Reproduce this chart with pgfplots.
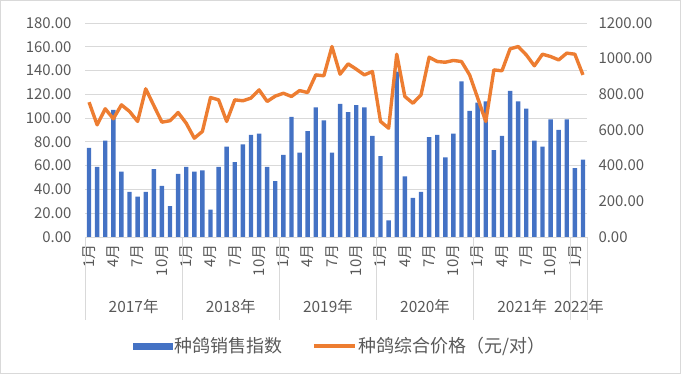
\documentclass[border=0pt]{standalone}
\usepackage{fontspec}
\setmainfont{Noto Sans CJK SC}
\usepackage{pgfplots}
\pgfplotsset{compat=1.18}
\definecolor{barblue}{HTML}{4472C4}
\definecolor{lineorange}{HTML}{ED7D31}
\definecolor{txtgray}{HTML}{595959}
\definecolor{gridgray}{HTML}{D9D9D9}

\pgfplotstableread{
m v
1 75
2 59
3 81
4 107
5 55
6 38
7 34
8 38
9 57
10 43
11 26
12 53
13 59
14 55
15 56
16 23
17 59
18 76
19 63
20 78
21 86
22 87
23 59
24 47
25 69
26 101
27 71
28 89
29 109
30 98
31 71
32 112
33 105
34 111
35 109
36 85
37 68
38 14
39 139
40 51
41 33
42 38
43 84
44 86
45 67
46 87
47 131
48 106
49 113
50 114
51 73
52 85
53 123
54 114
55 108
56 81
57 76
58 99
59 90
60 99
61 58
62 65
}\bars

\pgfplotstableread{
m p
1 756
2 629
3 719
4 663
5 741
6 704
7 648
8 831
9 737
10 644
11 652
12 698
13 638
14 554
15 592
16 782
17 769
18 648
19 769
20 764
21 779
22 825
23 760
24 790
25 806
26 788
27 821
28 810
29 909
30 904
31 1068
32 913
33 971
34 941
35 909
36 928
37 648
38 610
39 1025
40 788
41 750
42 797
43 1008
44 984
45 980
46 990
47 984
48 909
49 779
50 648
51 937
52 932
53 1055
54 1068
55 1021
56 960
57 1025
58 1012
59 993
60 1031
61 1025
62 909
}\price

\begin{document}
\begin{tikzpicture}
\path[use as bounding box] (0bp,0bp) rectangle (681bp,374bp);
\draw[gridgray, line width=1.2bp] (0.6bp,0.6bp) rectangle (680.4bp,373.4bp);
\begin{axis}[
  at={(85bp,137bp)}, anchor=south west,
  width=502bp, height=214bp, scale only axis,
  xmin=0.5, xmax=62.5, ymin=0, ymax=180,
  axis x line*=bottom, axis y line*=left,
  x axis line style={gridgray, line width=0.8bp},
  y axis line style={draw=none},
  ytick={0,20,...,180},
  ymajorgrids, grid style={gridgray, line width=0.8bp},
  ytick style={draw=none},
  /pgf/number format/fixed, /pgf/number format/fixed zerofill,
  /pgf/number format/precision=2, /pgf/number format/assume math mode=true,
  yticklabel style={font=\fontsize{15}{15}\selectfont, text=txtgray, xshift=-10bp},
  xtick={1,4,7,10,13,16,19,22,25,28,31,34,37,40,43,46,49,52,55,58,61},
  xticklabels={1月,4月,7月,10月,1月,4月,7月,10月,1月,4月,7月,10月,1月,4月,7月,10月,1月,4月,7月,10月,1月},
  xticklabel style={rotate=90, anchor=east, font=\fontsize{15}{15}\selectfont, text=txtgray},
  xtick style={draw=none},
  xticklabel shift=4bp,
  clip=false,
]
\addplot[ybar, bar width=4.4bp, fill=barblue, draw=none] table[x=m, y=v] {\bars};
\foreach \s in {0.5,12.5,24.5,36.5,48.5,60.5,62.5}{
  \edef\tmp{\noexpand\draw[gridgray, line width=0.8bp] (axis cs:\s,0) -- ++(0bp,-83bp);}
  \tmp
}
\foreach \c/\t in {6.5/2017年, 18.5/2018年, 30.5/2019年, 42.5/2020年, 54.5/2021年, 61.5/2022年}{
  \edef\tmp{\noexpand\node[font=\noexpand\fontsize{15.5}{15.5}\noexpand\selectfont, text=txtgray, anchor=center, yshift=-70bp] at (axis cs:\c,0) {\t};}
  \tmp
}
\end{axis}
\begin{axis}[
  at={(85bp,137bp)}, anchor=south west,
  width=502bp, height=214bp, scale only axis,
  xmin=0.5, xmax=62.5, ymin=0, ymax=1200,
  axis x line=none, axis y line*=right,
  y axis line style={draw=none},
  ytick={0,200,...,1200},
  ytick style={draw=none},
  /pgf/number format/fixed, /pgf/number format/fixed zerofill,
  /pgf/number format/precision=2, /pgf/number format/1000 sep={},
  /pgf/number format/assume math mode=true,
  yticklabel style={font=\fontsize{15}{15}\selectfont, text=txtgray, xshift=8bp},
  legend columns=2,
  legend style={at={(axis description cs:0.508,-0.509)}, anchor=center, draw=none, fill=none,
    font=\fontsize{18}{18}\selectfont, text=txtgray,
    /tikz/every even column/.append style={column sep=28bp}},
  clip=false,
]
\addlegendimage{legend image code/.code={\fill[barblue] (0bp,-3bp) rectangle (39bp,3bp);}}
\addlegendentry{种鸽销售指数}
\addplot[lineorange, line width=3.4bp, mark=none, line join=round,
  legend image code/.code={\draw[lineorange, line width=3.5bp] (0bp,0bp) -- (41bp,0bp);}] table[x=m, y=p] {\price};
\addlegendentry{种鸽综合价格（元/对）}
\end{axis}
\end{tikzpicture}
\end{document}
